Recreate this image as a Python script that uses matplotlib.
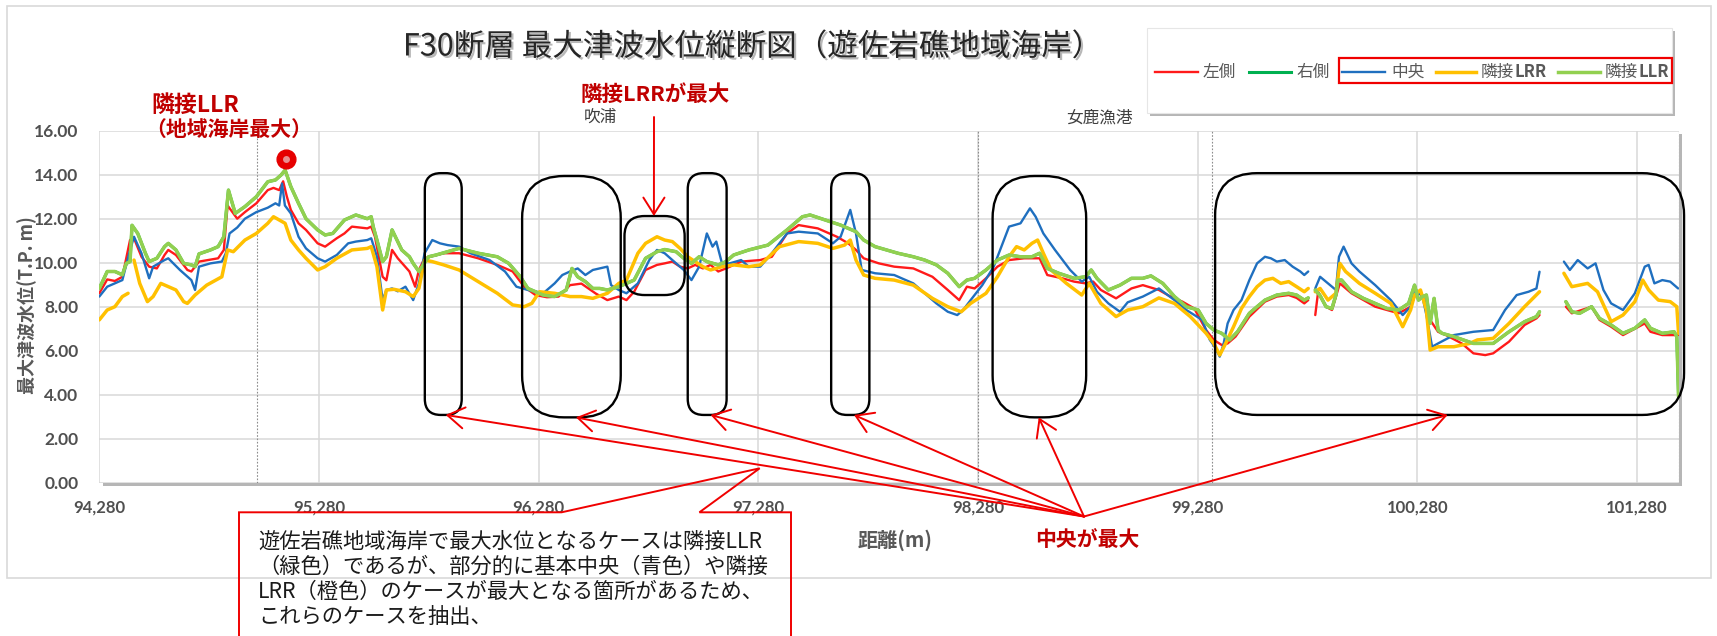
import matplotlib
matplotlib.use("Agg")
import matplotlib.pyplot as plt
import matplotlib.patheffects as pe
from matplotlib.patches import FancyBboxPatch, Rectangle, Polygon, FancyArrowPatch
from matplotlib.lines import Line2D
from matplotlib.transforms import IdentityTransform
from matplotlib.ticker import FuncFormatter

NAN = float("nan")

# ---------------------------------------------------------------- data
x_ticks = [94280, 95280, 96280, 97280, 98280, 99280, 100280, 101280]
y_ticks = [0, 2, 4, 6, 8, 10, 12, 14, 16]
x_range = (94280, 101472)
y_range = (0, 16)

series_names = ["左側", "右側", "中央", "隣接LRR", "隣接LLR"]

# (distance m, max water level T.P. m); NAN marks a break in the profile
left_side = [
    (94280, 8.61), (94316, 9.24), (94351, 9.17), (94385, 9.36), (94420, 11.03), (94438, 11.11),
    (94472, 10.27), (94507, 9.82), (94542, 9.74), (94577, 10.35), (94594, 10.58), (94629, 10.35),
    (94681, 9.67), (94699, 9.60), (94734, 10.05), (94821, 10.20), (94847, 10.58), (94864, 12.60),
    (94908, 12.00), (94943, 12.30), (94995, 12.70), (95047, 13.30), (95073, 13.40), (95099, 13.30),
    (95117, 13.70), (95134, 13.00), (95152, 12.40), (95187, 11.79), (95221, 11.49), (95274, 10.88),
    (95308, 10.73), (95361, 11.11), (95396, 11.33), (95430, 11.64), (95500, 11.56), (95518, 11.64),
    (95535, 11.18), (95570, 9.36), (95587, 9.20), (95613, 10.58), (95639, 10.20), (95692, 9.60),
    (95718, 8.91), (95735, 9.67), (95761, 10.20), (95796, 10.30), (95848, 10.43), (95918, 10.43),
    (96005, 10.20), (96092, 9.90), (96162, 9.60), (96214, 8.91), (96266, 8.53), (96318, 8.43),
    (96371, 8.46), (96423, 8.98), (96475, 9.05), (96540, 8.60), (96593, 8.30), (96645, 8.46),
    (96680, 8.30), (96715, 8.68), (96767, 9.67), (96819, 9.90), (96854, 9.97), (96889, 10.05),
    (96924, 9.82), (96959, 9.74), (96993, 9.90), (97028, 9.74), (97063, 9.90), (97098, 9.60),
    (97133, 9.74), (97202, 10.05), (97289, 10.12), (97342, 10.27), (97411, 11.33), (97464, 11.71),
    (97551, 11.56), (97638, 11.18), (97690, 10.88), (97725, 10.58), (97760, 10.20), (97829, 9.97),
    (97899, 9.82), (97986, 9.74), (98073, 9.36), (98143, 8.76), (98195, 8.30), (98230, 8.91),
    (98265, 8.83), (98317, 9.29), (98369, 9.82), (98422, 10.12), (98491, 10.20), (98561, 10.20),
    (98596, 9.44), (98665, 9.29), (98718, 9.14), (98770, 9.06), (98805, 9.14), (98840, 8.76),
    (98909, 8.38), (98979, 8.83), (99031, 8.98), (99104, 8.76), (99157, 8.46), (99211, 8.23),
    (99265, 7.92), (99319, 6.94), (99354, 6.49), (99390, 6.26), (99417, 6.33), (99453, 6.64),
    (99516, 7.55), (99587, 8.23), (99641, 8.46), (99695, 8.53), (99731, 8.40), (99766, 8.15),
    (99784, 8.30), (99800, NAN), (99816, 7.62), (99829, 8.68), (99865, 8.00), (99892, 7.85),
    (99910, 8.46), (99928, 9.06), (99981, 8.61), (100089, 8.00), (100196, 7.70), (100250, 8.00),
    (100268, 8.46), (100295, 8.61), (100313, 8.30), (100339, 7.40), (100375, 6.86), (100411, 6.71),
    (100483, 6.33), (100536, 5.88), (100590, 5.80), (100626, 5.88), (100698, 6.41), (100769, 7.17),
    (100823, 7.47), (100837, 7.62), (100890, NAN), (100957, 8.00), (100984, 7.70), (101074, 8.00),
    (101110, 7.40), (101163, 7.09), (101217, 6.71), (101316, 7.24), (101342, 6.86), (101396, 6.71),
    (101468, 6.71),
]

center = [
    (94280, 8.46), (94316, 8.91), (94385, 9.21), (94420, 10.58), (94438, 11.18), (94472, 10.43),
    (94507, 9.29), (94525, 9.82), (94577, 10.12), (94594, 10.20), (94647, 9.67), (94699, 9.21),
    (94716, 8.76), (94734, 9.82), (94786, 9.97), (94838, 10.05), (94856, 10.43), (94873, 11.33),
    (94908, 11.60), (94943, 12.00), (94995, 12.30), (95047, 12.50), (95082, 12.70), (95099, 12.60),
    (95112, 13.60), (95125, 12.60), (95152, 12.24), (95187, 11.18), (95221, 10.65), (95274, 10.20),
    (95308, 10.05), (95361, 10.35), (95413, 10.88), (95448, 10.96), (95500, 11.03), (95518, 11.11),
    (95544, 10.27), (95570, 8.30), (95587, 8.76), (95613, 8.83), (95639, 8.70), (95674, 8.91),
    (95709, 8.30), (95735, 9.06), (95761, 10.43), (95796, 11.03), (95831, 10.88), (95866, 10.80),
    (95918, 10.73), (95970, 10.43), (96057, 10.12), (96127, 9.60), (96179, 8.91), (96231, 8.76),
    (96301, 8.61), (96353, 9.06), (96388, 9.44), (96423, 9.60), (96458, 9.74), (96493, 9.44),
    (96527, 9.67), (96593, 9.82), (96610, 8.98), (96645, 8.76), (96680, 8.61), (96732, 9.06),
    (96784, 10.12), (96819, 10.58), (96854, 10.43), (96889, 10.12), (96941, 9.67), (96976, 9.21),
    (97011, 9.82), (97046, 11.33), (97072, 10.73), (97089, 10.96), (97115, 9.97), (97150, 9.97),
    (97202, 10.12), (97237, 9.82), (97289, 9.82), (97342, 10.43), (97411, 11.33), (97464, 11.41),
    (97551, 11.33), (97620, 10.88), (97655, 11.18), (97699, 12.40), (97725, 11.33), (97751, 9.67),
    (97812, 9.52), (97899, 9.44), (97986, 9.06), (98038, 8.61), (98091, 8.15), (98143, 7.77),
    (98186, 7.62), (98213, 7.85), (98247, 8.30), (98300, 8.98), (98352, 9.82), (98422, 11.64),
    (98474, 11.79), (98517, 12.47), (98543, 12.09), (98578, 11.33), (98631, 10.58), (98700, 9.67),
    (98753, 9.14), (98787, 9.36), (98822, 8.68), (98874, 8.15), (98927, 7.77), (98962, 8.20),
    (99031, 8.46), (99104, 8.83), (99175, 8.30), (99229, 7.85), (99301, 7.40), (99336, 6.49),
    (99363, 6.11), (99381, 5.73), (99399, 6.33), (99417, 7.24), (99444, 7.85), (99480, 8.30),
    (99516, 9.21), (99551, 9.97), (99587, 10.27), (99614, 10.20), (99641, 10.05), (99677, 10.12),
    (99713, 9.82), (99748, 9.60), (99766, 9.44), (99784, 9.60), (99800, NAN), (99816, 8.83),
    (99838, 9.36), (99874, 9.06), (99910, 8.76), (99924, 10.27), (99945, 10.73), (99981, 9.97),
    (100017, 9.60), (100089, 8.98), (100160, 8.30), (100214, 7.62), (100250, 8.00), (100268, 8.83),
    (100304, 8.46), (100322, 7.62), (100348, 6.18), (100375, 6.33), (100447, 6.71), (100536, 6.86),
    (100626, 6.94), (100680, 7.85), (100733, 8.53), (100787, 8.68), (100823, 8.83), (100837, 9.59),
    (100890, NAN), (100948, 10.05), (100975, 9.67), (101011, 10.12), (101056, 9.74), (101092, 9.97),
    (101128, 8.76), (101163, 8.15), (101217, 7.85), (101271, 8.61), (101316, 9.82), (101334, 9.90),
    (101360, 9.06), (101396, 9.21), (101432, 9.14), (101468, 8.83),
]

adjacent_lrr = [
    (94280, 7.40), (94316, 7.85), (94351, 8.00), (94385, 8.46), (94411, 8.61), (94425, NAN),
    (94438, 10.12), (94464, 9.06), (94499, 8.23), (94525, 8.46), (94560, 9.06), (94594, 8.91),
    (94629, 8.76), (94664, 8.23), (94681, 8.15), (94716, 8.53), (94769, 8.98), (94838, 9.36),
    (94864, 10.58), (94890, 10.50), (94943, 11.03), (94995, 11.33), (95047, 11.79), (95073, 12.09),
    (95099, 11.94), (95126, 11.79), (95152, 11.03), (95187, 10.58), (95221, 10.20), (95274, 9.67),
    (95308, 9.82), (95361, 10.20), (95430, 10.58), (95500, 10.65), (95518, 10.73), (95544, 9.82),
    (95570, 7.85), (95587, 8.76), (95622, 8.79), (95674, 8.68), (95709, 8.46), (95735, 8.83),
    (95761, 10.12), (95796, 10.05), (95848, 9.90), (95918, 9.67), (96005, 9.14), (96092, 8.61),
    (96162, 8.08), (96214, 8.00), (96249, 8.15), (96284, 8.68), (96353, 8.61), (96423, 8.46),
    (96475, 8.46), (96527, 8.38), (96593, 8.61), (96645, 9.06), (96680, 9.21), (96732, 10.43),
    (96767, 10.88), (96819, 11.18), (96854, 11.03), (96889, 10.96), (96924, 10.65), (96959, 10.27),
    (96993, 10.05), (97028, 9.82), (97063, 9.67), (97115, 9.82), (97168, 9.90), (97237, 9.82),
    (97289, 9.90), (97377, 10.73), (97464, 10.96), (97551, 10.88), (97620, 10.65), (97673, 10.80),
    (97699, 11.03), (97725, 10.12), (97760, 9.44), (97812, 9.29), (97899, 9.21), (97986, 8.98),
    (98073, 8.38), (98143, 8.00), (98204, 7.77), (98247, 8.15), (98317, 8.61), (98369, 9.36),
    (98422, 10.27), (98456, 10.73), (98491, 10.58), (98526, 10.88), (98552, 11.03), (98578, 10.43),
    (98613, 9.67), (98683, 9.06), (98753, 8.53), (98787, 9.06), (98840, 8.15), (98909, 7.55),
    (98962, 7.85), (99031, 8.00), (99104, 8.40), (99175, 8.15), (99247, 7.55), (99319, 6.79),
    (99354, 6.33), (99381, 5.80), (99408, 6.33), (99444, 7.09), (99480, 7.92), (99516, 8.46),
    (99551, 8.91), (99587, 9.21), (99623, 9.29), (99659, 9.06), (99695, 9.14), (99731, 8.91),
    (99766, 8.68), (99784, 8.83), (99800, NAN), (99816, 8.68), (99838, 8.83), (99874, 8.30),
    (99910, 8.61), (99928, 9.97), (99954, 9.60), (100017, 9.06), (100089, 8.61), (100160, 8.15),
    (100214, 7.09), (100250, 7.85), (100268, 8.53), (100295, 8.76), (100322, 7.85), (100339, 6.03),
    (100375, 6.18), (100447, 6.18), (100519, 6.33), (100554, 6.49), (100626, 6.56), (100698, 7.24),
    (100769, 8.00), (100837, 8.68), (100890, NAN), (100948, 9.52), (100984, 8.91), (101056, 9.06),
    (101101, 8.68), (101163, 7.32), (101217, 7.62), (101271, 8.23), (101307, 9.21), (101334, 8.76),
    (101378, 8.30), (101432, 8.23), (101462, 8.00), (101470, 6.79),
]

adjacent_llr = [
    (94280, 8.83), (94316, 9.60), (94351, 9.60), (94385, 9.45), (94403, 9.97), (94420, 10.05),
    (94429, 11.70), (94455, 11.33), (94490, 10.43), (94507, 10.05), (94542, 10.20), (94577, 10.73),
    (94594, 10.88), (94629, 10.58), (94664, 9.97), (94699, 9.90), (94716, 9.82), (94734, 10.40),
    (94786, 10.58), (94821, 10.73), (94847, 11.18), (94868, 13.30), (94899, 12.24), (94943, 12.55),
    (94995, 13.00), (95047, 13.68), (95082, 13.76), (95108, 13.99), (95126, 14.21), (95152, 13.46),
    (95187, 12.70), (95221, 12.00), (95274, 11.49), (95308, 11.26), (95343, 11.33), (95396, 11.94),
    (95448, 12.17), (95500, 12.00), (95518, 12.09), (95527, 11.64), (95544, 11.03), (95570, 10.05),
    (95587, 10.27), (95613, 11.49), (95657, 10.58), (95692, 10.27), (95709, 9.97), (95735, 9.60),
    (95779, 10.27), (95813, 10.35), (95918, 10.65), (96005, 10.43), (96092, 10.27), (96144, 9.97),
    (96197, 9.36), (96231, 8.83), (96266, 8.68), (96301, 8.53), (96353, 8.46), (96406, 8.76),
    (96432, 9.74), (96458, 9.36), (96493, 9.14), (96527, 8.83), (96558, 8.83), (96593, 8.76),
    (96645, 8.91), (96715, 9.21), (96767, 10.20), (96819, 10.50), (96854, 10.60), (96906, 10.50),
    (96941, 10.20), (96976, 9.97), (97011, 10.27), (97046, 10.05), (97098, 9.90), (97133, 10.05),
    (97168, 10.35), (97237, 10.58), (97324, 10.80), (97411, 11.49), (97481, 12.09), (97516, 12.17),
    (97586, 11.94), (97655, 11.71), (97725, 11.41), (97760, 11.03), (97812, 10.73), (97864, 10.58),
    (97916, 10.43), (97986, 10.27), (98038, 10.12), (98091, 9.90), (98143, 9.52), (98195, 8.91),
    (98230, 9.21), (98265, 9.29), (98317, 9.67), (98369, 10.12), (98422, 10.35), (98474, 10.27),
    (98526, 10.27), (98561, 10.43), (98596, 9.74), (98648, 9.52), (98718, 9.29), (98770, 9.36),
    (98796, 9.67), (98822, 9.29), (98874, 8.76), (98927, 8.98), (98979, 9.29), (99031, 9.29),
    (99068, 9.40), (99122, 9.06), (99175, 8.46), (99229, 8.00), (99283, 7.85), (99319, 7.24),
    (99354, 6.94), (99390, 6.79), (99426, 6.49), (99462, 6.86), (99516, 7.70), (99551, 8.00),
    (99587, 8.30), (99641, 8.53), (99695, 8.61), (99731, 8.53), (99766, 8.30), (99784, 8.40),
    (99800, NAN), (99816, 8.76), (99838, 8.50), (99865, 8.00), (99892, 7.92), (99910, 8.53),
    (99919, 9.21), (99936, 9.21), (99981, 8.68), (100035, 8.38), (100089, 8.15), (100142, 7.92),
    (100196, 7.85), (100241, 8.15), (100268, 8.98), (100286, 8.30), (100304, 8.46), (100322, 8.53),
    (100339, 7.24), (100357, 8.38), (100375, 6.94), (100393, 6.79), (100447, 6.64), (100536, 6.33),
    (100626, 6.33), (100698, 6.86), (100769, 7.32), (100823, 7.55), (100837, 7.77), (100890, NAN),
    (100957, 8.23), (100984, 7.77), (101020, 7.70), (101074, 8.00), (101110, 7.47), (101163, 7.17),
    (101217, 6.79), (101271, 7.02), (101316, 7.40), (101342, 7.02), (101396, 6.79), (101450, 6.86),
    (101462, 6.64), (101470, 3.90),
]

# the right-side case runs under the LLR case over the whole section
right_side = adjacent_llr

# highest water level along this coast
peak_x = [95131]
peak_y = [14.70]

# place boundaries (dotted) and place names
boundary_x = [95000, 98280, 99347, 101470]
place_names = ["吹浦", "女鹿漁港"]

# ---------------------------------------------------------------- style
W, H, DPI = 1717, 636, 100
plt.rcParams["font.family"] = ["Noto Sans CJK JP", "DejaVu Sans"]

GRAY_TXT = "#595959"
DARK_RED = "#C00000"
colors = {"左側": "#FF1A1A", "右側": "#00B050", "中央": "#1F6FBF",
          "隣接LRR": "#FFC000", "隣接LLR": "#92D050"}
widths = {"左側": 1.7, "右側": 2.2, "中央": 1.7, "隣接LRR": 2.5, "隣接LLR": 2.5}
data = {"左側": left_side, "右側": right_side, "中央": center,
        "隣接LRR": adjacent_lrr, "隣接LLR": adjacent_llr}

fig = plt.figure(figsize=(W / DPI, H / DPI), dpi=DPI)
fig.patch.set_facecolor("white")
renderer = fig.canvas.get_renderer()

ID = IdentityTransform()


def disp(x, y):
    """pixel position measured from the top-left corner -> display coords"""
    return x, H - y


def ftext(x, y, s, **kw):
    dx, dy = disp(x, y)
    return fig.text(dx / W, dy / H, s, **kw)


# outer chart frame
fig.add_artist(Rectangle(disp(7, 578), 1704, 572, transform=ID, fill=False,
                         ec="#D9D9D9", lw=1.2, zorder=-2))

# plot area
AX_L, AX_T, AX_R, AX_B = 99.3, 130.7, 1679.0, 482.7
ax = fig.add_axes([AX_L / W, 1 - AX_B / H, (AX_R - AX_L) / W, (AX_B - AX_T) / H])
ax.set_xlim(*x_range)
ax.set_ylim(*y_range)

# plot-area drop shadow
fig.add_artist(Rectangle(disp(AX_L, AX_B), AX_R - AX_L, AX_B - AX_T, transform=ID,
                         fc="white", ec="none", zorder=-1,
                         path_effects=[pe.withSimplePatchShadow(offset=(2.5, -2.5),
                                                                shadow_rgbFace="#7a7a7a",
                                                                alpha=0.55)]))

ax.set_xticks(x_ticks)
ax.set_yticks(y_ticks)
ax.xaxis.set_major_formatter(FuncFormatter(lambda v, p: f"{int(v):,}"))
ax.yaxis.set_major_formatter(FuncFormatter(lambda v, p: f"{v:.2f}"))
ax.grid(True, color="#D9D9D9", lw=1.1)
ax.set_axisbelow(True)
for s in ax.spines.values():
    s.set_visible(False)
ax.tick_params(axis="both", length=0, colors="#505050")
ax.tick_params(axis="y", pad=15, labelsize=12.5)
ax.tick_params(axis="x", pad=12, labelsize=12)
for lab in ax.get_xticklabels() + ax.get_yticklabels():
    lab.set_fontfamily(["Lato", "DejaVu Sans"])
    lab.set_fontweight("bold")

for bx in boundary_x:
    ax.axvline(bx, color="#8c8c8c", lw=0.8, ls=(0, (1.5, 1.5)), zorder=1.5)

for name in series_names:
    pts = data[name]
    xs = [p[0] for p in pts]
    ys = [p[1] for p in pts]
    ax.plot(xs, ys, color=colors[name], lw=widths[name], solid_joinstyle="round",
            solid_capstyle="round", zorder=2)

ax.plot(peak_x, peak_y, "o", ms=13.5, mfc="#E60000", mec="#E60000", zorder=6, clip_on=False)
ax.plot(peak_x, peak_y, "o", ms=5, mfc="#E99090", mec="none", zorder=7, clip_on=False)

# place names above the plot area
ax.text(96559, 16.6, place_names[0], ha="center", va="center", fontsize=12, color="#404040",
        clip_on=False)
ax.text(98835, 16.6, place_names[1], ha="center", va="center", fontsize=12, color="#404040",
        clip_on=False)


def to_disp(x, y):
    return ax.transData.transform((x, y))


# highlighted sections (x0, x1, y0, y1, corner radius px)
sections = [
    (95762, 95930, 3.08, 14.07, 16),
    (96205, 96654, 2.97, 13.94, 42),
    (96671, 96945, 8.53, 12.12, 20),
    (96959, 97136, 3.08, 14.07, 16),
    (97612, 97786, 3.08, 14.07, 16),
    (98347, 98773, 2.97, 13.94, 42),
    (99360, 101495, 3.08, 14.07, 42),
]
for x0, x1, y0, y1, r in sections:
    p0 = to_disp(x0, y0)
    p1 = to_disp(x1, y1)
    fig.add_artist(FancyBboxPatch(p0, p1[0] - p0[0], p1[1] - p0[1],
                                  boxstyle=f"round,pad=0,rounding_size={r}",
                                  transform=ID, fill=False, ec="black", lw=1.7, zorder=5))

ARROW = "->,head_length=0.6,head_width=0.38"

# pointers from the "center is highest" note
hub = disp(1084, 516.5)
targets = [(95857, 3.08), (96450, 2.97), (97063, 3.08), (97716, 3.08), (98557, 2.97), (100419, 3.08)]
for tx, ty in targets:
    fig.add_artist(FancyArrowPatch(hub, tuple(to_disp(tx, ty)), arrowstyle=ARROW,
                                   mutation_scale=20, transform=ID, color="#F00000",
                                   lw=1.4, shrinkA=0, shrinkB=0, zorder=6))

# pointer for the LRR note
fig.add_artist(FancyArrowPatch(disp(654, 117), tuple(to_disp(96805, 12.12)), arrowstyle=ARROW,
                               mutation_scale=20, transform=ID, color="#F00000",
                               lw=1.4, shrinkA=0, shrinkB=0, zorder=6))

# callout box
callout = [(239, 645), (239, 512.3), (561.6, 512.3), (759.7, 468.3), (699.4, 512.3),
           (791, 512.3), (791, 645)]
fig.add_artist(Polygon([disp(x, y) for x, y in callout], closed=True, transform=ID,
                       fc="none", ec="#F00000", lw=1.4, zorder=6))
note_lines = [
    "遊佐岩礁地域海岸で最大水位となるケースは隣接LLR",
    "（緑色）であるが、部分的に基本中央（青色）や隣接",
    "LRR（橙色）のケースが最大となる箇所があるため、",
    "これらのケースを抽出、",
]
for i, line in enumerate(note_lines):
    ftext(258, 542 + 25 * i, line, ha="left", va="center", fontsize=15.3, color="#1a1a1a")

# titles and labels
ftext(752, 47, "F30断層 最大津波水位縦断図（遊佐岩礁地域海岸）", ha="center", va="center",
      fontsize=22, color="#262626",
      path_effects=[pe.withSimplePatchShadow(offset=(1.5, -1.5), shadow_rgbFace="#8a8a8a",
                                             alpha=0.6)])
ftext(27, 305, "最大津波水位(T.P. m)", rotation=90, ha="center", va="center",
      fontsize=13, color=GRAY_TXT, fontweight="bold")
ftext(895, 540, "距離(m)", ha="center", va="center", fontsize=14.5, color=GRAY_TXT,
      fontweight="bold")
ftext(1087, 539, "中央が最大", ha="center", va="center", fontsize=15, color=DARK_RED,
      fontweight="bold")
ftext(655, 94, "隣接LRRが最大", ha="center", va="center", fontsize=15.5, color=DARK_RED,
      fontweight="bold")
ftext(151, 105, "隣接LLR", ha="left", va="center", fontsize=16.5, color=DARK_RED,
      fontweight="bold")
ftext(145, 129, "（地域海岸最大）", ha="left", va="center", fontsize=15, color=DARK_RED,
      fontweight="bold")

# legend
fig.add_artist(Rectangle(disp(1147, 113), 525, 85, transform=ID, fc="white", ec="#E6E6E6",
                         lw=0.8, zorder=4,
                         path_effects=[pe.withSimplePatchShadow(offset=(2.5, -2.5),
                                                                shadow_rgbFace="#7a7a7a",
                                                                alpha=0.55)]))
fig.add_artist(Rectangle(disp(1339, 83), 333, 25, transform=ID, fill=False, ec="#F00000",
                         lw=1.6, zorder=6))
legend_items = [
    ("左側", 1155, 1198, [("左側", "normal")], 1203),
    ("右側", 1249, 1291, [("右側", "normal")], 1296),
    ("中央", 1342, 1385, [("中央", "normal")], 1391),
    ("隣接LRR", 1436, 1476, [("隣接", "normal"), ("LRR", "bold")], 1481),
    ("隣接LLR", 1558, 1600, [("隣接", "normal"), ("LLR", "bold")], 1605),
]
LY = 72
for name, x0, x1, parts, tx in legend_items:
    a, b = disp(x0, LY), disp(x1, LY)
    fig.add_artist(Line2D([a[0], b[0]], [a[1], b[1]], transform=ID, color=colors[name],
                          lw=widths[name], zorder=5))
    for txt, wt in parts:
        t = ftext(tx, LY, txt, ha="left", va="center", fontsize=12, color=GRAY_TXT,
                  fontweight=wt, zorder=5)
        tx = t.get_window_extent(renderer=renderer).x1

fig.savefig("out.png", dpi=DPI)
